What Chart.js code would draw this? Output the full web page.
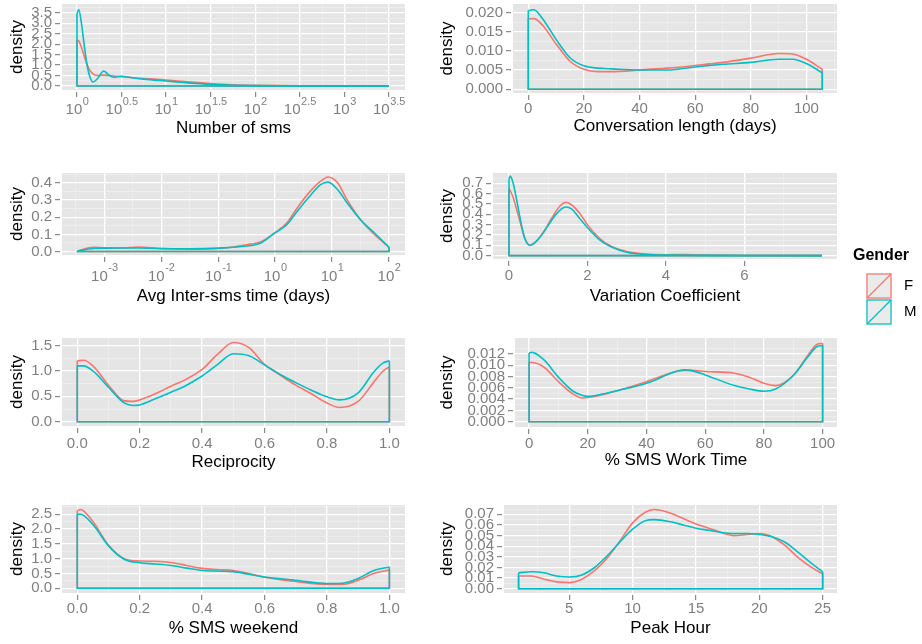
<!DOCTYPE html>
<html>
<head>
<meta charset="utf-8">
<title>Density by gender</title>
<script src="https://cdn.jsdelivr.net/npm/chart.js@4.4.1/dist/chart.umd.min.js"></script>
<style>
html, body { margin: 0; padding: 0; background: #ffffff; }
#wrap { position: relative; width: 922px; height: 644px; overflow: hidden; }
#wrap canvas { position: absolute; }
</style>
</head>
<body>
<div id="wrap">
  <canvas id="smsCount"></canvas>
  <canvas id="convLength"></canvas>
  <canvas id="interTime"></canvas>
  <canvas id="varCoef"></canvas>
  <canvas id="reciprocity"></canvas>
  <canvas id="workTime"></canvas>
  <canvas id="weekend"></canvas>
  <canvas id="peakHour"></canvas>
</div>
<script>
// ---- series ----
var genders = ['F', 'M'];
var genderColors = ['#F8766D', '#00BFC4'];

// Number of sms (x given in log10 units)
var smsLogX = [0, 0.02, 0.05, 0.08, 0.11, 0.14, 0.18, 0.23, 0.3, 0.35, 0.41, 0.5, 0.6, 0.75, 1.0, 1.25, 1.5, 1.75, 2.0, 2.5, 3.0, 3.5];
var smsF = [2.2, 2.15, 1.85, 1.45, 1.05, 0.78, 0.58, 0.5, 0.52, 0.5, 0.48, 0.45, 0.41, 0.36, 0.29, 0.2, 0.12, 0.06, 0.03, 0.006, 0.001, 0];
var smsM = [3.45, 3.66, 3.0, 2.0, 1.1, 0.5, 0.19, 0.35, 0.72, 0.55, 0.42, 0.47, 0.41, 0.33, 0.24, 0.15, 0.08, 0.04, 0.02, 0.004, 0.001, 0];
var smsXTicks = [0, 0.5, 1, 1.5, 2, 2.5, 3, 3.5];
var smsYTicks = [0, 0.5, 1, 1.5, 2, 2.5, 3, 3.5];

// Conversation length (days)
var convX = [0, 2, 5, 10, 15, 20, 25, 30, 40, 50, 60, 70, 80, 90, 95, 100, 105.7];
var convF = [0.0183, 0.0184, 0.0168, 0.0118, 0.0073, 0.0052, 0.0046, 0.0046, 0.0050, 0.0055, 0.0062, 0.0070, 0.0081, 0.0093, 0.0092, 0.0078, 0.0052];
var convM = [0.0205, 0.0207, 0.0185, 0.0130, 0.0082, 0.0061, 0.0055, 0.0053, 0.0050, 0.0050, 0.0058, 0.0065, 0.0070, 0.0078, 0.0078, 0.0067, 0.0043];
var convXTicks = [0, 20, 40, 60, 80, 100];
var convYTicks = [0, 0.005, 0.010, 0.015, 0.020];

// Avg inter-sms time (days, x given in log10 units)
var interLogX = [-3.47, -3.2, -3.0, -2.7, -2.4, -2.0, -1.5, -1.0, -0.5, -0.25, 0, 0.2, 0.4, 0.6, 0.8, 0.93, 1.1, 1.25, 1.5, 1.75, 2.0];
var interF = [0.003, 0.025, 0.022, 0.021, 0.027, 0.018, 0.014, 0.018, 0.04, 0.058, 0.11, 0.165, 0.26, 0.345, 0.41, 0.435, 0.4, 0.31, 0.185, 0.098, 0.025];
var interM = [0.003, 0.018, 0.02, 0.021, 0.021, 0.017, 0.016, 0.02, 0.032, 0.05, 0.11, 0.155, 0.24, 0.32, 0.39, 0.405, 0.36, 0.29, 0.185, 0.107, 0.025];
var interXTicks = [-3, -2, -1, 0, 1, 2];
var interYTicks = [0, 0.1, 0.2, 0.3, 0.4];

// Variation coefficient
var varX = [0, 0.03, 0.1, 0.2, 0.3, 0.4, 0.53, 0.7, 0.9, 1.1, 1.3, 1.45, 1.6, 1.8, 2.0, 2.3, 2.6, 3.0, 3.5, 4.0, 4.5, 5.0, 6.0, 7.97];
var varF = [0.65, 0.63, 0.57, 0.44, 0.3, 0.17, 0.1, 0.14, 0.24, 0.37, 0.48, 0.515, 0.49, 0.41, 0.3, 0.17, 0.09, 0.04, 0.015, 0.008, 0.01, 0.005, 0.001, 0];
var varM = [0.74, 0.77, 0.71, 0.53, 0.33, 0.17, 0.1, 0.14, 0.235, 0.35, 0.44, 0.47, 0.45, 0.36, 0.27, 0.155, 0.085, 0.032, 0.01, 0.005, 0.003, 0.002, 0.001, 0];
var varXTicks = [0, 2, 4, 6];
var varYTicks = [0, 0.1, 0.2, 0.3, 0.4, 0.5, 0.6, 0.7];

// Reciprocity
var recX = [0, 0.02, 0.05, 0.1, 0.15, 0.18, 0.2, 0.25, 0.3, 0.35, 0.4, 0.45, 0.5, 0.55, 0.6, 0.65, 0.7, 0.75, 0.8, 0.84, 0.9, 0.95, 0.98, 1.0];
var recF = [1.2, 1.21, 1.1, 0.72, 0.41, 0.4, 0.43, 0.55, 0.7, 0.84, 1.03, 1.33, 1.56, 1.46, 1.13, 0.92, 0.72, 0.55, 0.37, 0.28, 0.4, 0.78, 1.0, 1.08];
var recM = [1.1, 1.1, 1.0, 0.68, 0.37, 0.32, 0.33, 0.45, 0.58, 0.72, 0.9, 1.13, 1.34, 1.3, 1.12, 0.93, 0.77, 0.62, 0.49, 0.43, 0.57, 0.98, 1.16, 1.2];
var recXTicks = [0, 0.2, 0.4, 0.6, 0.8, 1.0];
var recYTicks = [0, 0.5, 1.0, 1.5];

// % SMS work time
var workX = [0, 1, 5, 10, 15, 18, 20, 25, 30, 40, 50, 53, 55, 60, 70, 75, 80, 84, 90, 95, 98, 100];
var workF = [0.0105, 0.0105, 0.0097, 0.0071, 0.0049, 0.0042, 0.0043, 0.0048, 0.0055, 0.0071, 0.0089, 0.0091, 0.0091, 0.0089, 0.0086, 0.0079, 0.0068, 0.0064, 0.0082, 0.0118, 0.0137, 0.0139];
var workM = [0.0122, 0.0123, 0.011, 0.0079, 0.0054, 0.0047, 0.0045, 0.0049, 0.0055, 0.0068, 0.0089, 0.0092, 0.0091, 0.0083, 0.0064, 0.0058, 0.0054, 0.0058, 0.0082, 0.0115, 0.0133, 0.0135];
var workXTicks = [0, 20, 40, 60, 80, 100];
var workYTicks = [0, 0.002, 0.004, 0.006, 0.008, 0.010, 0.012];

// % SMS weekend
var wkndX = [0, 0.01, 0.05, 0.1, 0.15, 0.2, 0.25, 0.3, 0.35, 0.4, 0.45, 0.5, 0.55, 0.6, 0.7, 0.8, 0.85, 0.9, 0.95, 1.0];
var wkndF = [2.62, 2.66, 2.25, 1.45, 1.0, 0.92, 0.91, 0.87, 0.77, 0.67, 0.63, 0.6, 0.5, 0.37, 0.23, 0.13, 0.13, 0.27, 0.5, 0.62];
var wkndM = [2.5, 2.5, 2.15, 1.43, 0.98, 0.86, 0.82, 0.77, 0.68, 0.6, 0.58, 0.56, 0.47, 0.38, 0.27, 0.16, 0.17, 0.33, 0.6, 0.72];
var wkndXTicks = [0, 0.2, 0.4, 0.6, 0.8, 1.0];
var wkndYTicks = [0, 0.5, 1.0, 1.5, 2.0, 2.5];

// Peak hour
var peakX = [1, 2, 3, 4, 5, 6, 7, 8, 9, 10, 11, 11.7, 13, 14, 15, 16, 17, 18, 19, 20, 21, 22, 23, 24, 25];
var peakF = [0.012, 0.012, 0.009, 0.0065, 0.0058, 0.009, 0.017, 0.029, 0.045, 0.062, 0.072, 0.0745, 0.071, 0.066, 0.061, 0.057, 0.053, 0.05, 0.051, 0.052, 0.049, 0.041, 0.03, 0.021, 0.014];
var peakM = [0.015, 0.016, 0.015, 0.012, 0.011, 0.013, 0.02, 0.031, 0.044, 0.056, 0.064, 0.065, 0.063, 0.06, 0.057, 0.055, 0.053, 0.052, 0.052, 0.051, 0.049, 0.044, 0.035, 0.025, 0.016];
var peakXTicks = [5, 10, 15, 20, 25];
var peakYTicks = [0, 0.01, 0.02, 0.03, 0.04, 0.05, 0.06, 0.07];

var FONT = '"Liberation Sans", Arial, Helvetica, sans-serif';
var TICK_GREY = '#7F7F7F';
Chart.defaults.font.family = FONT;

// panels: data refs + limits (ggplot 5% expansion) + page geometry of the grey panel
var panels = [
  { id: 'smsCount', xs: smsLogX, f: smsF, m: smsM, xTicks: smsXTicks, yTicks: smsYTicks, xDec: 0, yDec: 1, logX: true,
    xMin: -0.168, xMax: 3.68, yMin: -0.19, yMax: 3.92, title: 'Number of sms',
    box: { col: 0, l: 62, r: 405, t: 4, b: 90, h: 48.2, pad: 0, expY: 20, expUp: 8 } },
  { id: 'convLength', xs: convX, f: convF, m: convM, xTicks: convXTicks, yTicks: convYTicks, xDec: 0, yDec: 3,
    xMin: -5.5, xMax: 111, yMin: -0.00097, yMax: 0.0222, title: 'Conversation length (days)',
    box: { col: 430, l: 513, r: 837, t: 4, b: 93, h: 43.2, pad: 1 } },
  { id: 'interTime', xs: interLogX, f: interF, m: interM, xTicks: interXTicks, yTicks: interYTicks, xDec: 0, yDec: 1, logX: true,
    xMin: -3.743, xMax: 2.281, yMin: -0.02, yMax: 0.458, title: 'Avg Inter-sms time (days)',
    box: { col: 0, l: 62, r: 405, t: 173, b: 255, h: 51.2, pad: 0, expY: 22, expUp: 9 } },
  { id: 'varCoef', xs: varX, f: varF, m: varM, xTicks: varXTicks, yTicks: varYTicks, xDec: 0, yDec: 1,
    xMin: -0.408, xMax: 8.36, yMin: -0.033, yMax: 0.8, title: 'Variation Coefficient',
    box: { col: 430, l: 493, r: 837, t: 173, b: 259, h: 47.2, pad: 2.4, padR: 85, canvasH: 165 },
    legend: { title: 'Gender', tx: 853, ty: 256, kx: 866, ky: 273, size: 26, lx: 904 } },
  { id: 'reciprocity', xs: recX, f: recF, m: recM, xTicks: recXTicks, yTicks: recYTicks, xDec: 1, yDec: 1,
    xMin: -0.049, xMax: 1.05, yMin: -0.085, yMax: 1.65, title: 'Reciprocity',
    box: { col: 0, l: 62, r: 405, t: 338, b: 426, h: 46.5, pad: 3.5 } },
  { id: 'workTime', xs: workX, f: workF, m: workM, xTicks: workXTicks, yTicks: workYTicks, xDec: 0, yDec: 3,
    xMin: -4.8, xMax: 104.9, yMin: -0.00094, yMax: 0.01484, title: '% SMS Work Time',
    box: { col: 430, l: 515, r: 837, t: 338, b: 427, h: 43.5, pad: 2 } },
  { id: 'weekend', xs: wkndX, f: wkndF, m: wkndM, xTicks: wkndXTicks, yTicks: wkndYTicks, xDec: 1, yDec: 1,
    xMin: -0.049, xMax: 1.05, yMin: -0.16, yMax: 2.81, title: '% SMS weekend',
    box: { col: 0, l: 62, r: 405, t: 505, b: 593, h: 45.2, pad: 1 } },
  { id: 'peakHour', xs: peakX, f: peakF, m: peakM, xTicks: peakXTicks, yTicks: peakYTicks, xDec: 0, yDec: 2,
    xMin: -0.15, xMax: 26.13, yMin: -0.004, yMax: 0.0788, title: 'Peak Hour',
    box: { col: 430, l: 504, r: 837, t: 505, b: 593, h: 45.2, pad: 1.5 } }
];

// major ticks + ggplot style minor breaks halfway between them
function makeTicks(majors, min, max) {
  var step = majors[1] - majors[0];
  var out = majors.map(function (v) { return { value: v }; });
  for (var i = -1; i < majors.length; i++) {
    var m = majors[0] + (i + 0.5) * step;
    if (m > min && m < max) out.push({ value: m, minor: true });
  }
  out.sort(function (a, b) { return a.value - b.value; });
  return out;
}

function isMinor(c) { return c.tick && c.tick.minor; }

function gridOptions(dashOffset) {
  return {
    color: function (c) { return isMinor(c) ? '#F2F2F2' : '#FFFFFF'; },
    lineWidth: function (c) { return isMinor(c) ? 0.6 : 1.3; },
    drawTicks: true,
    tickLength: 7,
    tickWidth: 1.1,
    tickColor: function (c) { return isMinor(c) ? 'rgba(0,0,0,0)' : TICK_GREY; },
    tickBorderDash: [5, 2],
    tickBorderDashOffset: dashOffset
  };
}

var panelBg = {
  id: 'panelBg',
  beforeDraw: function (chart) {
    var a = chart.chartArea, ctx = chart.ctx;
    ctx.save();
    ctx.fillStyle = '#E5E5E5';
    ctx.fillRect(a.left, a.top, a.right - a.left, a.bottom - a.top);
    ctx.restore();
  }
};

// 10^k labels with a raised exponent for the log10 axes
var expLabels = {
  id: 'expLabels',
  afterDraw: function (chart, args, opts) {
    if (!opts.on) return;
    var xs = chart.scales.x, ctx = chart.ctx;
    ctx.save();
    ctx.fillStyle = TICK_GREY;
    ctx.textBaseline = 'middle';
    ctx.textAlign = 'left';
    xs.ticks.forEach(function (t) {
      if (t.minor) return;
      var px = xs.getPixelForValue(t.value);
      var ex = String(t.value);
      ctx.font = '15px ' + FONT;
      var w1 = ctx.measureText('10').width;
      ctx.font = '11px ' + FONT;
      var w2 = ctx.measureText(ex).width;
      var x0 = px - (w1 + w2) / 2;
      var y = xs.top + opts.dy;
      ctx.font = '15px ' + FONT;
      ctx.fillText('10', x0, y);
      ctx.font = '11px ' + FONT;
      ctx.fillText(ex, x0 + w1 + 0.5, y - opts.up);
    });
    ctx.restore();
  }
};

var genderLegend = {
  id: 'genderLegend',
  afterDraw: function (chart, args, opts) {
    if (!opts.on) return;
    var ctx = chart.ctx, ox = opts.ox, oy = opts.oy, s = opts.size;
    ctx.save();
    ctx.textBaseline = 'middle';
    ctx.textAlign = 'left';
    ctx.fillStyle = '#000';
    ctx.font = 'bold 16px ' + FONT;
    ctx.fillText(opts.title, opts.tx - ox, opts.ty - oy);
    genders.forEach(function (g, i) {
      var kx = opts.kx - ox, ky = opts.ky - oy + i * s;
      ctx.fillStyle = '#EBEBEB';
      ctx.fillRect(kx, ky, s, s);
      ctx.strokeStyle = genderColors[i];
      ctx.lineWidth = 1.2;
      ctx.strokeRect(kx + 1, ky + 1, s - 2, s - 2);
      ctx.beginPath();
      ctx.moveTo(kx + 1, ky + s - 1);
      ctx.lineTo(kx + s - 1, ky + 1);
      ctx.stroke();
      ctx.fillStyle = '#000';
      ctx.font = '15px ' + FONT;
      ctx.fillText(g, opts.lx - ox, ky + s / 2);
    });
    ctx.restore();
  }
};

function curve(xs, ys, label, color) {
  return {
    label: label,
    data: xs.map(function (x, i) { return { x: x, y: ys[i] }; }),
    borderColor: color, borderWidth: 1.6, pointRadius: 0,
    cubicInterpolationMode: 'monotone', fill: false
  };
}

// ggplot closes the density polygon: verticals at both ends + baseline
function outline(xs, ys, label, color) {
  var n = xs.length - 1;
  return {
    label: label,
    data: [{ x: xs[0], y: ys[0] }, { x: xs[0], y: 0 }, { x: xs[n], y: 0 }, { x: xs[n], y: ys[n] }],
    borderColor: color, borderWidth: 1.6, pointRadius: 0, tension: 0, fill: false
  };
}

function buildPanel(p) {
  var g = p.box;
  var padT = 8, padR = g.padR || 10;
  var w = g.r + padR - g.col;
  var h = g.canvasH || Math.ceil(padT + (g.b - g.t) + g.h + 4);
  var padB = h - padT - (g.b - g.t) - g.h;
  var canvas = document.getElementById(p.id);
  canvas.width = w;
  canvas.height = h;
  canvas.style.left = g.col + 'px';
  canvas.style.top = (g.t - padT) + 'px';
  canvas.style.width = w + 'px';
  canvas.style.height = h + 'px';

  var legendOpts = { on: false };
  if (p.legend) {
    legendOpts = Object.assign({ on: true, ox: g.col, oy: g.t - padT }, p.legend);
  }

  // M first so it is drawn on top of F
  var datasets = [
    curve(p.xs, p.m, genders[1], genderColors[1]),
    outline(p.xs, p.m, genders[1], genderColors[1]),
    curve(p.xs, p.f, genders[0], genderColors[0]),
    outline(p.xs, p.f, genders[0], genderColors[0])
  ];

  return new Chart(canvas, {
    type: 'line',
    data: { datasets: datasets },
    plugins: [panelBg, expLabels, genderLegend],
    options: {
      responsive: false,
      animation: false,
      events: [],
      layout: { padding: { left: 0, top: padT, right: padR, bottom: padB } },
      plugins: {
        legend: { display: false },
        tooltip: { enabled: false },
        expLabels: { on: !!p.logX, dy: g.expY, up: g.expUp },
        genderLegend: legendOpts
      },
      scales: {
        x: {
          type: 'linear', bounds: 'data', min: p.xMin, max: p.xMax,
          afterBuildTicks: function (s) { s.ticks = makeTicks(p.xTicks, p.xMin, p.xMax); },
          afterFit: function (s) { s.height = g.h; s.paddingLeft = 0; s.paddingRight = 0; },
          grid: gridOptions(5),
          border: { display: false },
          ticks: {
            display: !p.logX, color: TICK_GREY, padding: g.pad, autoSkip: false, maxRotation: 0,
            font: { size: 15, lineHeight: 1 },
            callback: function (v, i, t) { return t[i].minor ? '' : v.toFixed(p.xDec); }
          },
          title: { display: true, text: p.title, color: '#000', font: { size: 17, lineHeight: 1.2 }, padding: 0 }
        },
        y: {
          type: 'linear', bounds: 'data', min: p.yMin, max: p.yMax,
          afterBuildTicks: function (s) { s.ticks = makeTicks(p.yTicks, p.yMin, p.yMax); },
          afterFit: function (s) { s.width = g.l - g.col; s.paddingTop = 0; s.paddingBottom = 0; },
          grid: gridOptions(0),
          border: { display: false },
          ticks: {
            color: TICK_GREY, padding: 3, autoSkip: false,
            font: { size: 15, lineHeight: 1 },
            callback: function (v, i, t) { return t[i].minor ? '' : v.toFixed(p.yDec); }
          },
          title: { display: true, text: 'density', color: '#000', font: { size: 17, lineHeight: 1.2 }, padding: { top: 7, bottom: 0 } }
        }
      }
    }
  });
}

panels.forEach(buildPanel);
</script>
</body>
</html>
